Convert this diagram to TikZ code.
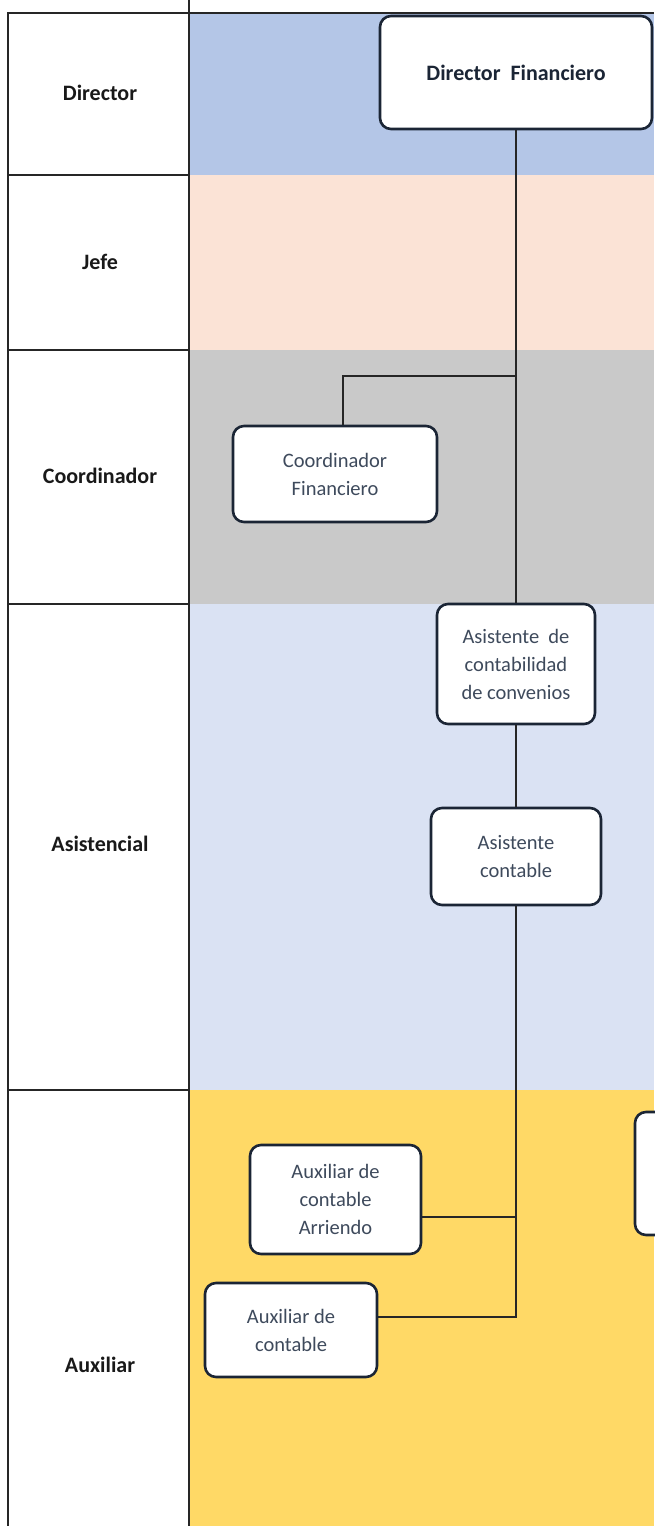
\documentclass[tikz,border=0pt]{standalone}
\usepackage{fontspec}
\setmainfont{Carlito}
\usetikzlibrary{positioning}
\definecolor{bandDir}{HTML}{B4C6E7}
\definecolor{bandJefe}{HTML}{FBE3D6}
\definecolor{bandCoord}{HTML}{C9C9C9}
\definecolor{bandAsis}{HTML}{DAE2F3}
\definecolor{bandAux}{HTML}{FFD966}
\definecolor{navyline}{HTML}{1B2535}
\definecolor{boxtext}{HTML}{3E4A5C}
\begin{document}
\begin{tikzpicture}[x=1pt,y=-1pt,
    cargo/.style={draw=navyline,line width=2.6pt,rounded corners=11pt,fill=white,
        align=center,text=boxtext,font=\fontsize{20.5}{28}\selectfont,inner sep=0pt},
    nivel/.style={font=\fontsize{22}{26}\selectfont\bfseries,text=black!90},
    linea/.style={line width=1.4pt,draw=black!85}]
    \useasboundingbox (0,0) rectangle (654,1526);
    % franjas de color
    \fill[bandDir] (189,13) rectangle (654,175);
    \fill[bandJefe] (189,175) rectangle (654,350);
    \fill[bandCoord] (189,350) rectangle (654,604);
    \fill[bandAsis] (189,604) rectangle (654,1090);
    \fill[bandAux] (189,1090) rectangle (654,1526);
    % marco de niveles
    \draw[linea] (8,1526) -- (8,13) -- (654,13);
    \draw[linea] (189,0) -- (189,1526);
    \foreach \y in {175,350,604,1090}
        \draw[linea] (8,\y) -- (189,\y);
    \node[nivel] (lDir) at (100,93) {Director};
    \node[nivel] (lJefe) at (100,262) {Jefe};
    \node[nivel] (lCoord) at (100,476) {Coordinador};
    \node[nivel] (lAsis) at (100,844) {Asistencial};
    \node[nivel] (lAux) at (100,1365) {Auxiliar};
    % cargos
    \node[cargo,minimum width=272pt,minimum height=113pt,text=navyline,
        font=\fontsize{22}{26}\selectfont\bfseries] (dir) at (516,72.5) {Director\ \ Financiero};
    \node[cargo,minimum width=204pt,minimum height=96pt] (coord) at (335,474) {Coordinador\\Financiero};
    \node[cargo,minimum width=158pt,minimum height=120pt] (asconv) at (516,664) {Asistente\ \ de\\contabilidad\\de convenios};
    \node[cargo,minimum width=170pt,minimum height=97pt] (ascont) at (516,856.5) {Asistente\\contable};
    \node[cargo,minimum width=171pt,minimum height=109pt] (auxarr) at (335.5,1199.5) {Auxiliar de\\contable\\Arriendo};
    \node[cargo,minimum width=172pt,minimum height=94pt] (auxcont) at (291,1330) {Auxiliar de\\contable};
    \node[cargo,minimum width=130pt,minimum height=123pt] (extra) at (700,1173.5) {};
    % conexiones
    \coordinate (bc) at (516,376);
    \coordinate (bcc) at (343,376);
    \coordinate (j1) at (516,1217);
    \coordinate (j2) at (516,1317);
    \draw[linea] (dir.south) -- (asconv.north);
    \draw[linea] (bc) -- (bcc) -- (bcc |- coord.north);
    \draw[linea] (asconv.south) -- (ascont.north);
    \draw[linea] (ascont.south) -- (j2) -- (j2 -| auxcont.east);
    \draw[linea] (j1) -- (j1 -| auxarr.east);
\end{tikzpicture}
\end{document}
